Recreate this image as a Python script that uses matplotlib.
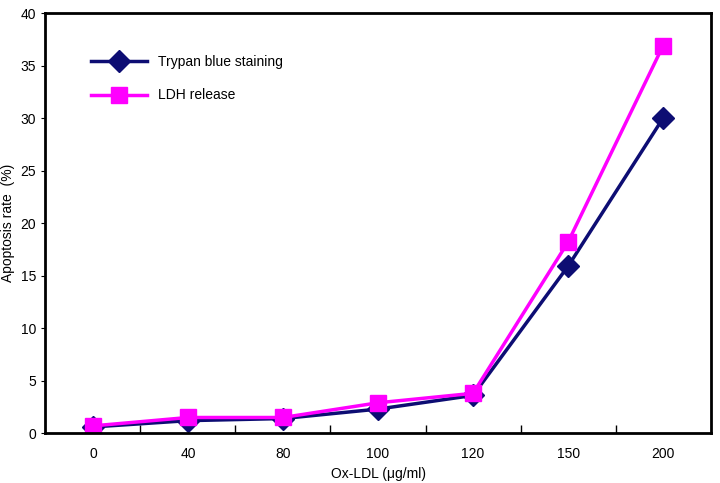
import matplotlib
matplotlib.use("Agg")
import matplotlib.pyplot as plt
import numpy as np

doses = ['0', '40', '80', '100', '120', '150', '200']
trypan = [0.6, 1.2, 1.4, 2.3, 3.6, 15.9, 30.0]
ldh = [0.7, 1.5, 1.5, 2.9, 3.8, 18.2, 36.9]

plt.rcParams['font.family'] = 'Liberation Sans'

fig = plt.figure(figsize=(7.2, 4.83), dpi=100)
ax = fig.add_axes([0.063, 0.103, 0.924, 0.87])

x = np.arange(len(doses))
ax.plot(x, trypan, marker='D', markersize=11, linewidth=2.5,
        color='#0d0d73', label='Trypan blue staining')
ax.plot(x, ldh, marker='s', markersize=11, linewidth=2.5,
        color='#ff00ff', label='LDH release')

ax.set_xlim(-0.5, len(doses) - 0.5)
ax.set_ylim(0, 40)
ax.set_yticks(range(0, 41, 5))
ax.set_xticks(x)
ax.set_xticklabels(doses)
ax.set_xticks(x[:-1] + 0.5, minor=True)
ax.tick_params(axis='x', which='major', length=0, pad=10, labelsize=10)
ax.tick_params(axis='x', which='minor', direction='in', length=6, width=1)
ax.tick_params(axis='y', direction='out', length=3, labelsize=10)
for s in ax.spines.values():
    s.set_linewidth(2)

ax.set_xlabel('Ox-LDL (\u03bcg/ml)', fontsize=10)
ax.set_ylabel('Apoptosis rate  (%)', fontsize=10)
ax.legend(loc='upper left', frameon=False, fontsize=10,
          bbox_to_anchor=(0.05, 0.93), labelspacing=1.4, handlelength=4)

fig.savefig('out.png', dpi=100)
